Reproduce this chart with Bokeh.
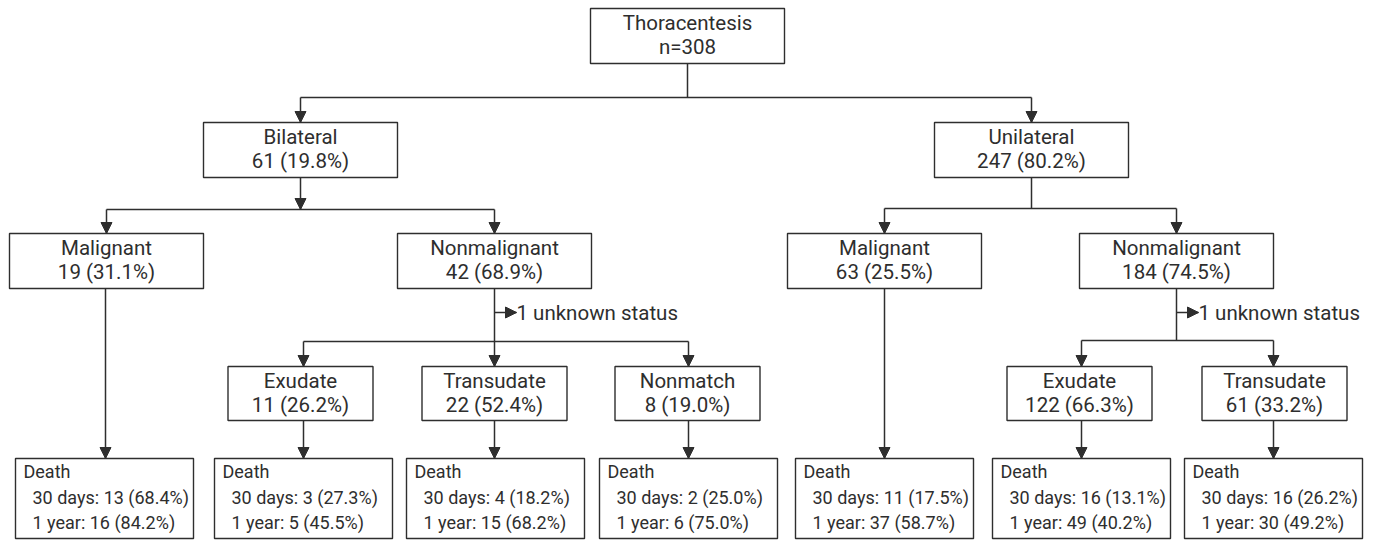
from bokeh.plotting import figure
from bokeh.models import Range1d, ColumnDataSource
from bokeh.core.properties import value
from bokeh.embed import file_html
from bokeh.resources import INLINE

# ---------------- data ----------------
root_label = "Thoracentesis"
root_n = 308

side_labels = ["Bilateral", "Unilateral"]
side_n = [61, 247]
side_pct = [19.8, 80.2]

type_labels = ["Malignant", "Nonmalignant", "Malignant", "Nonmalignant"]
type_n = [19, 42, 63, 184]
type_pct = [31.1, 68.9, 25.5, 74.5]

fluid_labels = ["Exudate", "Transudate", "Nonmatch", "Exudate", "Transudate"]
fluid_n = [11, 22, 8, 122, 61]
fluid_pct = [26.2, 52.4, 19.0, 66.3, 33.2]

unknown_n = [1, 1]

death_30d_n = [13, 3, 4, 2, 11, 16, 16]
death_30d_pct = [68.4, 27.3, 18.2, 25.0, 17.5, 13.1, 26.2]
death_1y_n = [16, 5, 15, 6, 37, 49, 30]
death_1y_pct = [84.2, 45.5, 68.2, 75.0, 58.7, 40.2, 49.2]

# ---------------- layout (pixel coordinates) ----------------
INK = "#2e2e2e"
FONT = "Roboto"
NODE_FS = "20.5px"
DEATH_FS = "18px"
HEAD = 11  # arrow head length / width
BL = 8     # renderer baseline correction

root_cx, root_w, root_top, root_h = 687, 194, 8, 55
side_cx = [300, 1031]
type_cx = [106, 494, 884, 1176]
fluid_cx = [300, 494, 687, 1079, 1274]
fluid_arrow_x = [303, 494, 688, 1081, 1273]
death_cx = [104, 303, 495, 688, 884, 1081, 1273]

L1_top, L1_h, L1_w = 122, 55, 194
L2_top, L2_h, L2_w = 233, 55, 194
L3_top, L3_h, L3_w = 366, 54, 145
D_top, D_h, D_w = 458, 80, 178

p = figure(width=1376, height=540, output_backend="svg", toolbar_location=None,
           x_range=Range1d(0, 1376), y_range=Range1d(540, 0),
           min_border=0, min_border_left=0, min_border_right=0,
           min_border_top=0, min_border_bottom=0)
p.axis.visible = False
p.grid.visible = False
p.outline_line_color = None
p.background_fill_color = "white"
p.border_fill_color = "white"

seg = dict(x0=[], y0=[], x1=[], y1=[])
heads = dict(xs=[], ys=[])

def S(x0, y0, x1, y1):
    seg["x0"].append(x0); seg["y0"].append(y0); seg["x1"].append(x1); seg["y1"].append(y1)

def A(x0, y0, x1, y1):
    S(x0, y0, x1, y1)
    h = HEAD / 2
    if x0 == x1:  # vertical, pointing down
        heads["xs"].append([x1 - h, x1 + h, x1]); heads["ys"].append([y1 - HEAD, y1 - HEAD, y1])
    else:  # horizontal, pointing right
        heads["xs"].append([x1 - HEAD, x1 - HEAD, x1]); heads["ys"].append([y1 - h, y1 + h, y1])

# root
S(root_cx, root_top + root_h, root_cx, 97)
S(side_cx[0], 97, side_cx[1], 97)
for cx in side_cx:
    A(cx, 97, cx, L1_top)
# bilateral
A(side_cx[0], L1_top + L1_h, side_cx[0], 209)
S(type_cx[0], 209, type_cx[1], 209)
A(type_cx[0], 209, type_cx[0], L2_top)
A(type_cx[1], 209, type_cx[1], L2_top)
# unilateral
S(side_cx[1], L1_top + L1_h, side_cx[1], 208)
S(type_cx[2], 208, type_cx[3], 208)
A(type_cx[2], 208, type_cx[2], L2_top)
A(type_cx[3], 208, type_cx[3], L2_top)
# malignant -> death
A(type_cx[0] - 1, L2_top + L2_h, type_cx[0] - 1, D_top)
A(type_cx[2], L2_top + L2_h, type_cx[2], D_top)
# nonmalignant splits
S(type_cx[1], L2_top + L2_h, type_cx[1], 341)
A(type_cx[1], 312, type_cx[1] + 22, 312)
S(fluid_arrow_x[0], 341, fluid_arrow_x[2], 341)
for i in range(3):
    A(fluid_arrow_x[i], 341, fluid_arrow_x[i], L3_top)
S(type_cx[3], L2_top + L2_h, type_cx[3], 340)
A(type_cx[3], 312, type_cx[3] + 22, 312)
S(fluid_arrow_x[3], 340, fluid_arrow_x[4], 340)
for i in range(3, 5):
    A(fluid_arrow_x[i], 340, fluid_arrow_x[i], L3_top)
# fluid -> death
for i in range(5):
    A(fluid_arrow_x[i], L3_top + L3_h, fluid_arrow_x[i], D_top)

p.segment(x0="x0", y0="y0", x1="x1", y1="y1", source=ColumnDataSource(seg),
          line_color=INK, line_width=1.5)
p.patches(xs="xs", ys="ys", source=ColumnDataSource(heads),
          fill_color=INK, line_color=INK, line_width=1)

# ---------- boxes ----------
bx = dict(l=[], r=[], t=[], b=[])
def B(cx, w, top, h):
    bx["l"].append(cx - w / 2); bx["r"].append(cx + w / 2)
    bx["t"].append(top); bx["b"].append(top + h)

B(root_cx, root_w, root_top, root_h)
for cx in side_cx:
    B(cx, L1_w, L1_top, L1_h)
for cx in type_cx:
    B(cx, L2_w, L2_top, L2_h)
for cx in fluid_cx:
    B(cx, L3_w, L3_top, L3_h)
for cx in death_cx:
    B(cx, D_w, D_top, D_h)

p.quad(left="l", right="r", top="t", bottom="b", source=ColumnDataSource(bx),
       fill_color="white", line_color=INK, line_width=1.4)

# ---------- node texts ----------
tx = dict(x=[], y=[], t=[])
def T(x, y, t):
    tx["x"].append(x); tx["y"].append(y - BL); tx["t"].append(t)

T(root_cx, root_top + 22, root_label)
T(root_cx, root_top + 46, f"n={root_n}")
for cx, lab, n, pc in zip(side_cx, side_labels, side_n, side_pct):
    T(cx, L1_top + 22, lab); T(cx, L1_top + 46, f"{n} ({pc:.1f}%)")
for cx, lab, n, pc in zip(type_cx, type_labels, type_n, type_pct):
    T(cx, L2_top + 22, lab); T(cx, L2_top + 46, f"{n} ({pc:.1f}%)")
for cx, lab, n, pc in zip(fluid_cx, fluid_labels, fluid_n, fluid_pct):
    T(cx, L3_top + 22, lab); T(cx, L3_top + 46, f"{n} ({pc:.1f}%)")

p.text(x="x", y="y", text="t", source=ColumnDataSource(tx), text_align="center",
       text_baseline="alphabetic", text_font=value(FONT), text_font_size=NODE_FS,
       text_color=INK)

# unknown status labels
ux = [type_cx[1] + 22, type_cx[3] + 22]
p.text(x=ux, y=[320 - BL, 320 - BL], text=[f"{u} unknown status" for u in unknown_n],
       text_align="left", text_baseline="alphabetic", text_font=value(FONT),
       text_font_size=NODE_FS, text_color=INK)

# ---------- death texts ----------
dx = dict(x=[], y=[], t=[])
for cx, a, ap, b, bp in zip(death_cx, death_30d_n, death_30d_pct, death_1y_n, death_1y_pct):
    left = cx - D_w / 2
    dx["x"] += [left + 8, left + 17, left + 17]
    dx["y"] += [D_top + 21 - BL, D_top + 47 - BL, D_top + 72 - BL]
    dx["t"] += ["Death", f"30 days: {a} ({ap:.1f}%)", f"1 year: {b} ({bp:.1f}%)"]

p.text(x="x", y="y", text="t", source=ColumnDataSource(dx), text_align="left",
       text_baseline="alphabetic", text_font=value(FONT), text_font_size=DEATH_FS,
       text_color=INK)

open("out.html", "w").write(file_html(p, INLINE))
